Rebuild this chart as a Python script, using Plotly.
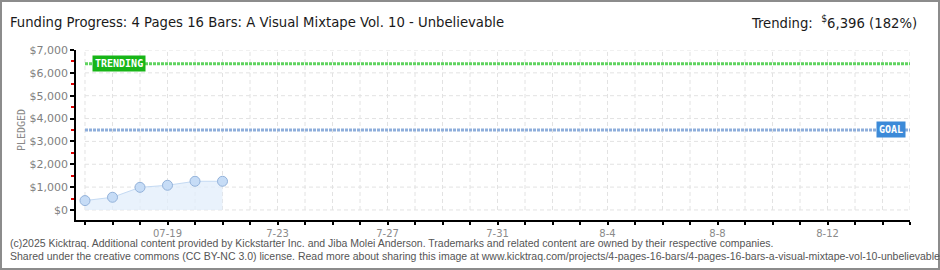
import plotly.graph_objects as go
import pandas as pd

# ---- data ----
point_dates = ["2025-07-16", "2025-07-17", "2025-07-18", "2025-07-19", "2025-07-20", "2025-07-21"]
pledged = [410, 555, 990, 1080, 1255, 1255]
goal = 3500
trending = 6396
axis_start = "2025-07-16"
axis_end = "2025-08-15"
tick_label_dates = ["2025-07-19", "2025-07-23", "2025-07-27", "2025-07-31", "2025-08-04", "2025-08-08", "2025-08-12"]
tick_labels = ["07-19", "7-23", "7-27", "7-31", "8-4", "8-8", "8-12"]
y_major = [0, 1000, 2000, 3000, 4000, 5000, 6000, 7000]
y_labels = ["$0", "$1,000", "$2,000", "$3,000", "$4,000", "$5,000", "$6,000", "$7,000"]
y_minor = [500, 1500, 2500, 3500, 4500, 5500, 6500]

title = "Funding Progress: 4 Pages 16 Bars: A Visual Mixtape Vol. 10 - Unbelievable"
footer1 = ("(c)2025 Kicktraq. Additional content provided by Kickstarter Inc. and Jiba Molei Anderson. "
           "Trademarks and related content are owned by their respective companies.")
footer2 = ("Shared under the creative commons (CC BY-NC 3.0) license. Read more about sharing this image at "
           "www.kicktraq.com/projects/4-pages-16-bars/4-pages-16-bars-a-visual-mixtape-vol-10-unbelievable/")

W, H = 940, 270
ML, MR, MT, MB = 76, 30, 50, 50
PW = W - ML - MR
PH = H - MT - MB

days = pd.date_range(axis_start, axis_end, freq="D")
x0 = pd.Timestamp(axis_start) - pd.Timedelta(hours=7.85)
x1 = pd.Timestamp(axis_end)
ymin, ymax = -440, 7000

tickvals = list(days)
lab = dict(zip(pd.to_datetime(tick_label_dates), tick_labels))
ticktext = [lab.get(d, " ") for d in days]

TITLE_FONT = "DejaVu Sans Condensed, Liberation Sans, sans-serif"

fig = go.Figure()

# goal & trending lines
fig.add_trace(go.Scatter(x=[days[0], days[-1]], y=[trending, trending], mode="lines",
                         line=dict(color="#5fd35f", width=3, dash="3px,1px"), hoverinfo="skip"))
fig.add_trace(go.Scatter(x=[days[0], days[-1]], y=[goal, goal], mode="lines",
                         line=dict(color="#8eaedb", width=3, dash="3px,1px"), hoverinfo="skip"))

# pledged series
fig.add_trace(go.Scatter(x=pd.to_datetime(point_dates), y=pledged, mode="lines+markers",
                         fill="tozeroy", fillcolor="rgba(225,237,251,0.75)",
                         line=dict(color="#c4daf3", width=1),
                         marker=dict(size=10, color="#c6dcf6", line=dict(color="#93b2da", width=1)),
                         cliponaxis=False))

shapes = []
for d in days:
    shapes.append(dict(type="line", xref="x", yref="y", x0=d, x1=d, y0=0, y1=ymax,
                       line=dict(color="#e2e2e2", width=1, dash="4px,3px"), layer="below"))
for yv in y_major:
    shapes.append(dict(type="line", xref="x", yref="y", x0=days[0], x1=days[-1], y0=yv, y1=yv,
                       line=dict(color="#e2e2e2", width=1, dash="4px,3px"), layer="below"))
# outer frame
shapes.append(dict(type="rect", xref="paper", yref="paper",
                   x0=(1 - ML) / PW, x1=(W - 1 - ML) / PW,
                   y0=-(MB - 1) / PH, y1=1 + (MT - 1) / PH,
                   line=dict(color="#8c8c8c", width=2)))

annotations = [
    dict(text=title, xref="paper", yref="paper", x=(8 - ML) / PW, y=1 + (MT - 22) / PH,
         xanchor="left", yanchor="middle", showarrow=False,
         font=dict(family=TITLE_FONT, size=14.7, color="#1a1a1a")),
    dict(text="Trending:  <sup>$</sup>6,396 (182%)", xref="paper", yref="paper",
         x=(919 - ML) / PW, y=1 + (MT - 22) / PH, xanchor="right", yanchor="middle", showarrow=False,
         font=dict(family=TITLE_FONT, size=14.7, color="#1a1a1a")),
    dict(text="PLEDGED", xref="paper", yref="paper", x=(21 - ML) / PW, y=(H - MB - 130) / PH,
         textangle=-90, showarrow=False, xanchor="center", yanchor="middle",
         font=dict(family="DejaVu Sans Mono", size=10, color="#888888")),
    dict(text="<b>TRENDING</b>", xref="x", yref="y", x=days[0] + pd.Timedelta(hours=6.5), y=trending,
         xanchor="left", yanchor="middle", showarrow=False, bgcolor="#17b517",
         borderpad=2, font=dict(family="DejaVu Sans Mono", size=10, color="white")),
    dict(text="<b>GOAL</b>", xref="x", yref="y", x=days[-1] - pd.Timedelta(hours=3.5), y=goal,
         xanchor="right", yanchor="middle", showarrow=False, bgcolor="#3c8ad8",
         borderpad=2, font=dict(family="DejaVu Sans Mono", size=10, color="white")),
    dict(text=footer1, xref="paper", yref="paper", x=(8 - ML) / PW, y=-(243 - (H - MB)) / PH,
         xanchor="left", yanchor="middle", showarrow=False,
         font=dict(family="Liberation Sans", size=10.5, color="#555555")),
    dict(text=footer2, xref="paper", yref="paper", x=(8 - ML) / PW, y=-(256 - (H - MB)) / PH,
         xanchor="left", yanchor="middle", showarrow=False,
         font=dict(family="Liberation Sans", size=10.5, color="#555555")),
]

fig.update_layout(
    width=W, height=H, margin=dict(l=ML, r=MR, t=MT, b=MB, pad=0),
    paper_bgcolor="white", plot_bgcolor="white", showlegend=False,
    shapes=shapes, annotations=annotations,
    xaxis=dict(type="date", range=[x0, x1], tickvals=tickvals, ticktext=ticktext,
               showgrid=False, zeroline=False, showline=True, linecolor="black", linewidth=1.5,
               ticks="outside", ticklen=3, tickcolor="black", tickwidth=1.5,
               tickfont=dict(family="DejaVu Sans", size=10, color="#8a8a8a")),
    yaxis=dict(range=[ymin, ymax], tickvals=y_major, ticktext=y_labels,
               showgrid=False, zeroline=False, showline=True, linecolor="black", linewidth=1.5,
               ticks="outside", ticklen=4, tickcolor="black", tickwidth=1.5,
               tickfont=dict(family="DejaVu Sans", size=11, color="#808080"),
               minor=dict(tickmode="array", tickvals=y_minor, ticks="outside", ticklen=3,
                          tickcolor="#e00000", tickwidth=1.5, showgrid=False)),
)

fig.write_html("out.html")
